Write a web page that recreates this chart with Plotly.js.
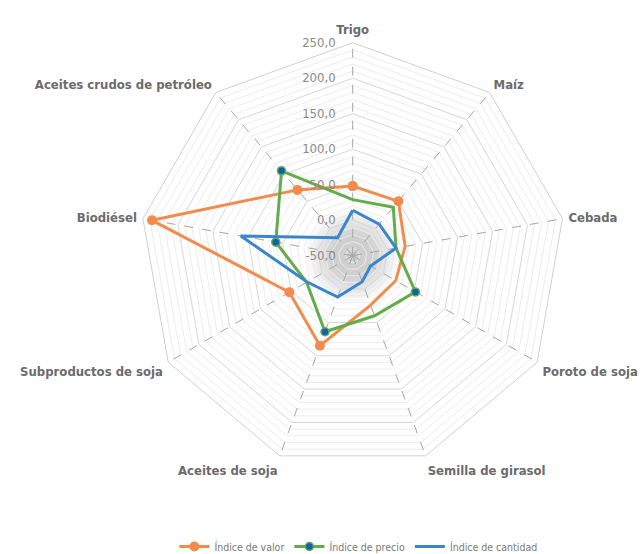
<!DOCTYPE html>
<html>
<head>
<meta charset="utf-8">
<script src="https://cdn.plot.ly/plotly-3.0.1.min.js"></script>
<style>html,body{margin:0;padding:0;background:#fff;}#chart{width:640px;height:554px;}</style>
</head>
<body>
<div id="chart"></div>
<script>
const categories = ["Trigo","Maíz","Cebada","Poroto de soja","Semilla de girasol","Aceites de soja","Subproductos de soja","Biodiésel","Aceites crudos de petróleo"];
const indiceValor = [48, 50, 25, 20, 24, 85, 53, 237, 71];
const indicePrecio = [29, 39, 12, 52, 40, 64, 25, 60, 106];
const indiceCantidad = [14, 8, 12, -21, -11, 12, 24, 110, -17];
const majorTicks = [-50, 0, 50, 100, 150, 200, 250];
const majorLabels = ["-50,0", "0,0", "50,0", "100,0", "150,0", "200,0", "250,0"];
const minorTicks = [];
for (let v = -40; v <= 240; v += 10) { if (v % 50 !== 0) minorTicks.push(v); }

const close = a => a.concat([a[0]]);
const thetaC = close(categories);

const FONT = '"Liberation Sans Narrow", "Arial Narrow", "DejaVu Sans Condensed", sans-serif';

const traces = [
  {type:'scatterpolar', subplot:'polar', r: categories.map(()=>null), theta: categories, mode:'lines', showlegend:false, hoverinfo:'skip'},
  {type:'scatterpolar', subplot:'polar2', name:'Índice de valor', r: close(indiceValor), theta: thetaC, mode:'lines+markers',
   line:{color:'#f28b4c', width:3}, marker:{color:'#f28b4c', size:10}},
  {type:'scatterpolar', subplot:'polar2', name:'Índice de precio', r: close(indicePrecio), theta: thetaC, mode:'lines+markers',
   line:{color:'#63ac4a', width:3}, marker:{color:'#0f62ae', size:8, line:{color:'#63ac4a', width:1.5}}},
  {type:'scatterpolar', subplot:'polar2', name:'Índice de cantidad', r: close(indiceCantidad), theta: thetaC, mode:'lines',
   line:{color:'#3a86cc', width:3}}
];

const dom = {x:[139.7/640, 565.7/640], y:[1-468.7/554, 1-42.7/554]};
const cx = 352.7, cy = 255.7;
const shapes = [];
[46, 42, 38, 34, 30, 26, 22].forEach(rad => {
  shapes.push({type:'circle', xref:'paper', yref:'paper', layer:'below',
    x0:(cx-rad)/640, x1:(cx+rad)/640, y0:1-(cy+rad)/554, y1:1-(cy-rad)/554,
    fillcolor:'rgba(0,0,0,0.028)', line:{width:0}});
});

const layout = {
  width:640, height:554,
  margin:{l:0, r:0, t:0, b:0, autoexpand:false},
  paper_bgcolor:'#ffffff',
  showlegend:true,
  font:{family:FONT, color:'#6e6e6e'},
  shapes: shapes,
  polar:{
    domain: dom, bgcolor:'rgba(0,0,0,0)', gridshape:'linear',
    radialaxis:{range:[-50,250], tickvals:minorTicks, showticklabels:false, ticks:'', showline:false,
      gridcolor:'#ececec', gridwidth:1},
    angularaxis:{direction:'clockwise', rotation:90, showgrid:false, showline:false, showticklabels:false, ticks:'',
      categoryarray:categories, categoryorder:'array'}
  },
  polar2:{
    domain: dom, bgcolor:'rgba(0,0,0,0)', gridshape:'linear',
    radialaxis:{range:[-50,250], tickvals:majorTicks, ticktext:majorLabels, angle:90, side:'counterclockwise', tickangle:90,
      showline:false, ticks:'outside', ticklen:12, tickcolor:'rgba(0,0,0,0)', gridcolor:'#d6d6d6', gridwidth:1,
      tickfont:{family:FONT, size:13, color:'#8a8a8a'}},
    angularaxis:{direction:'clockwise', rotation:90, showgrid:true, gridcolor:'#a6a6a6', griddash:'dash', gridwidth:1,
      showline:true, linecolor:'#d0d0d0', linewidth:1, ticks:'outside', ticklen:3, tickcolor:'rgba(0,0,0,0)',
      categoryarray:categories, categoryorder:'array',
      tickfont:{family:FONT, size:13, color:'#6b6b6b', weight:'bold'}}
  },
  legend:{orientation:'h', x:0.56, xanchor:'center', y:1-532/554, yanchor:'top',
    font:{family:FONT, size:10.5, color:'#7a7a7a'}, itemwidth:30}
};

Plotly.newPlot('chart', traces, layout, {displayModeBar:false, staticPlot:true});
</script>
</body>
</html>
